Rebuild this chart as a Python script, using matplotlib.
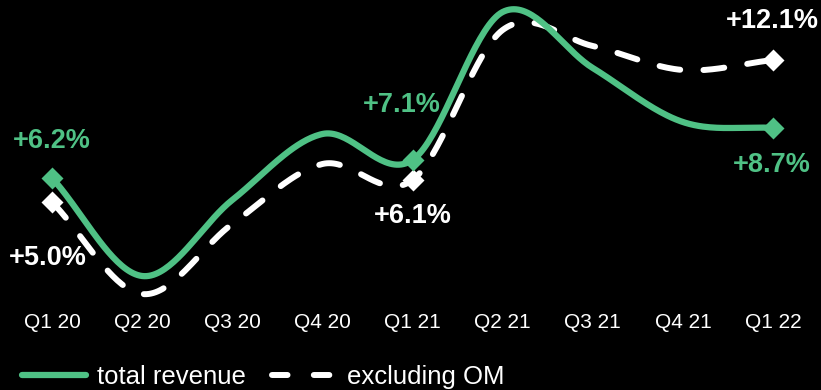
"""
Revenue growth, total vs excluding OM - smoothed quarterly lines on black.
"""
import numpy as np
import matplotlib
matplotlib.use('Agg')
import matplotlib.pyplot as plt
from matplotlib.lines import Line2D

quarters = ['Q1 20', 'Q2 20', 'Q3 20', 'Q4 20', 'Q1 21', 'Q2 21', 'Q3 21', 'Q4 21', 'Q1 22']
total_revenue = [6.2, 1.3, 5.1, 8.4, 7.1, 14.5, 11.7, 9.0, 8.7]
excluding_om = [5.0, 0.4, 3.9, 6.9, 6.1, 13.6, 12.8, 11.6, 12.1]
marked = [0, 4, 8]
green_labels = {0: '+6.2%', 4: '+7.1%', 8: '+8.7%'}
white_labels = {0: '+5.0%', 4: '+6.1%', 8: '+12.1%'}

GREEN = '#4fc185'
FONT = ['Liberation Sans', 'DejaVu Sans']


def catmull_rom(y, steps=40):
    """Smooth curve through the points (uniform Catmull-Rom)."""
    y = np.asarray(y, float)
    p = np.concatenate([[2 * y[0] - y[1]], y, [2 * y[-1] - y[-2]]])
    xs, ys = [], []
    t = np.linspace(0, 1, steps, endpoint=False)
    for i in range(len(y) - 1):
        p0, p1, p2, p3 = p[i], p[i + 1], p[i + 2], p[i + 3]
        seg = 0.5 * (2 * p1 + (-p0 + p2) * t + (2 * p0 - 5 * p1 + 4 * p2 - p3) * t ** 2
                     + (-p0 + 3 * p1 - 3 * p2 + p3) * t ** 3)
        xs.append(i + t)
        ys.append(seg)
    xs.append([len(y) - 1])
    ys.append([y[-1]])
    return np.concatenate(xs), np.concatenate(ys)


fig = plt.figure(figsize=(8.21, 3.9), dpi=100, facecolor='black')
# axes spans pixel rows 0..300; 20 px per percentage point, 6.2% at y=178
ax = fig.add_axes([0, 90 / 390, 1, 300 / 390])
ax.set_facecolor('black')
ax.set_xlim(-52 / 90.125, 8 + 48 / 90.125)
ax.set_ylim(6.2 - 122 / 20, 6.2 + 178 / 20)
for s in ax.spines.values():
    s.set_visible(False)
ax.set_yticks([])

xw, yw = catmull_rom(excluding_om)
ax.plot(xw, yw, color='white', lw=4.3, dashes=(3.5, 3.9), dash_capstyle='round',
        solid_capstyle='round', clip_on=False, zorder=2)
xg, yg = catmull_rom(total_revenue)
ax.plot(xg, yg, color=GREEN, lw=4.5, solid_capstyle='round', clip_on=False, zorder=3)

ax.plot(marked, [excluding_om[i] for i in marked], 'D', color='white', ms=11,
        mec='none', zorder=4)
ax.plot(marked, [total_revenue[i] for i in marked], 'D', color=GREEN, ms=11,
        mec='none', zorder=5)

lbl = dict(fontsize=19.5, fontweight='bold', family=FONT,
           ha='center', va='center', zorder=6)
offsets_g = {0: (0, 37), 4: (-11, 55), 8: (-1, -37)}
offsets_w = {0: (-4, -56), 4: (0, -36), 8: (-1, 39)}
for i, t in green_labels.items():
    ax.annotate(t, (i, total_revenue[i]), xytext=offsets_g[i], textcoords='offset pixels',
                color=GREEN, **lbl)
for i, t in white_labels.items():
    ax.annotate(t, (i, excluding_om[i]), xytext=offsets_w[i], textcoords='offset pixels',
                color='white', **lbl)

ax.set_xticks(range(len(quarters)))
ax.set_xticklabels(quarters, color='white', fontsize=15, family=FONT)
ax.tick_params(axis='x', length=0, pad=9)

handles = [Line2D([], [], color=GREEN, lw=4.5, solid_capstyle='round'),
           Line2D([], [], color='white', lw=4.3, dashes=(2.6, 4.4), dash_capstyle='round')]
leg = fig.legend(handles, ['total revenue', 'excluding OM'], loc='center left',
                 bbox_to_anchor=(22 / 821, 1 - 377 / 390), ncol=2, frameon=False,
                 borderpad=0, borderaxespad=0, handlelength=2.5,
                 handletextpad=0.43, columnspacing=1.0,
                 prop={'family': FONT, 'size': 18.5})
for t in leg.get_texts():
    t.set_color('white')

fig.savefig('out.png', dpi=100, facecolor='black')
